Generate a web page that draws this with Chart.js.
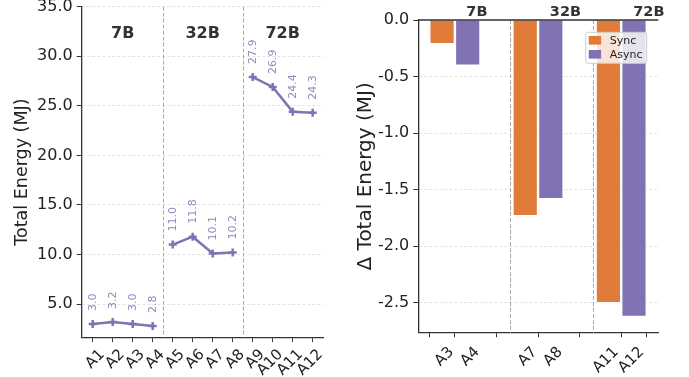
<!DOCTYPE html>
<html>
<head>
<meta charset="utf-8">
<script src="https://cdn.jsdelivr.net/npm/chart.js@4.4.1/dist/chart.umd.min.js"></script>
<style>
  html, body { margin: 0; padding: 0; background: #fff; }
  #wrap { position: relative; width: 689px; height: 377px; }
  #left-chart { position: absolute; left: 0; top: 0; }
  #right-chart { position: absolute; left: 345px; top: 0; }
</style>
</head>
<body>
<div id="wrap">
  <canvas id="left-chart" width="345" height="377"></canvas>
  <canvas id="right-chart" width="344" height="377"></canvas>
</div>
<script>
// ---- data ----
const runLabels = ['A1', 'A2', 'A3', 'A4', 'A5', 'A6', 'A7', 'A8', 'A9', 'A10', 'A11', 'A12'];
const totalEnergy = [3.0, 3.2, 3.0, 2.8, 11.0, 11.8, 10.1, 10.2, 27.9, 26.9, 24.4, 24.3];
const modelGroups = ['7B', '32B', '72B'];
const runsPerGroup = 4;
const energyTicks = [5, 10, 15, 20, 25, 30, 35];

const deltaLabels = ['A3', 'A4', 'A7', 'A8', 'A11', 'A12'];
const deltaSlots = [0, 1, 3.25, 4.25, 6.5, 7.5];
const syncDelta = [-0.21, -1.73, -2.50];   // A3, A7, A11
const asyncDelta = [-0.40, -1.58, -2.62];  // A4, A8, A12
const deltaTicks = [0, -0.5, -1.0, -1.5, -2.0, -2.5];

// ---- styles ----
const PURPLE = '#8172b3';
const ORANGE = '#e07b39';
const AXIS = '#333';
const FONT = "'DejaVu Sans', sans-serif";
Chart.defaults.font.family = FONT;
Chart.defaults.color = '#222';

/**
 * Pin the plot area: fixed scale size, no extra padding from labels
 */
function fixSize(prop, size) {
    return function(scale) {
        scale[prop] = size;
        scale.paddingLeft = 0;
        scale.paddingRight = 0;
        scale.paddingTop = 0;
        scale.paddingBottom = 0;
    };
}

function fixedTicks(values) {
    return function(scale) {
        scale.ticks = values.map(v => ({ value: v }));
    };
}

/**
 * Rotated (45 deg) x tick labels, centred on the tick like matplotlib
 */
function drawXLabels(chart, labels, gap) {
    const { ctx, scales: { x } } = chart;
    ctx.save();
    ctx.font = '15px ' + FONT;
    ctx.fillStyle = '#222';
    ctx.textAlign = 'center';
    ctx.textBaseline = 'alphabetic';
    x.ticks.forEach((t, i) => {
        const text = labels[i];
        const m = ctx.measureText(text);
        const w = m.actualBoundingBoxLeft + m.actualBoundingBoxRight;
        const h = m.actualBoundingBoxAscent;
        const diag = (w + h) / Math.SQRT2;
        const cx = x.getPixelForValue(t.value) + 1 - 5 * (text.length - 2);
        const cy = x.top + gap + diag / 2;
        ctx.save();
        ctx.translate(cx, cy);
        ctx.rotate(-Math.PI / 4);
        ctx.fillText(text, 0, h / 2);
        ctx.restore();
    });
    ctx.restore();
}

// ---- left: total energy per run ----
const leftDatasets = modelGroups.map((g, gi) => ({
    label: g,
    data: totalEnergy.slice(gi * runsPerGroup, (gi + 1) * runsPerGroup)
        .map((v, i) => ({ x: gi * runsPerGroup + i, y: v })),
    borderColor: PURPLE,
    backgroundColor: PURPLE,
    borderWidth: 2.5,
    pointStyle: 'cross',
    pointRadius: 4,
    pointBorderWidth: 2.5,
    pointHoverRadius: 4
}));

const leftDecor = {
    id: 'leftDecor',
    beforeDatasetsDraw(chart) {
        const { ctx, chartArea, scales: { x } } = chart;
        ctx.save();
        ctx.strokeStyle = '#aaa';
        ctx.lineWidth = 1;
        ctx.setLineDash([4, 2]);
        for (let g = 1; g < modelGroups.length; g++) {
            const px = Math.round(x.getPixelForValue(g * runsPerGroup - 0.5)) + 0.5;
            ctx.beginPath();
            ctx.moveTo(px, chartArea.top);
            ctx.lineTo(px, chartArea.bottom);
            ctx.stroke();
        }
        ctx.restore();
    },
    afterDatasetsDraw(chart) {
        const { ctx, scales: { x, y } } = chart;
        ctx.save();
        // value labels
        ctx.fillStyle = 'rgba(129, 114, 179, 0.85)';
        ctx.font = '11px ' + FONT;
        ctx.textAlign = 'left';
        ctx.textBaseline = 'middle';
        totalEnergy.forEach((v, i) => {
            const px = x.getPixelForValue(i);
            const py = y.getPixelForValue(v);
            ctx.save();
            ctx.translate(px, py - 13);
            ctx.rotate(-Math.PI / 2);
            ctx.fillText(v.toFixed(1), 0, 0);
            ctx.restore();
        });
        // group labels
        ctx.fillStyle = '#333';
        ctx.font = 'bold 16px ' + FONT;
        ctx.textAlign = 'center';
        modelGroups.forEach((g, gi) => {
            const px = x.getPixelForValue(gi * runsPerGroup + (runsPerGroup - 1) / 2);
            ctx.fillText(g, px, y.getPixelForValue(32.3));
        });
        ctx.restore();
    },
    afterDraw(chart) {
        drawXLabels(chart, runLabels, 9.2);
    }
};

new Chart(document.getElementById('left-chart'), {
    type: 'line',
    data: { datasets: leftDatasets },
    options: {
        responsive: false,
        animation: false,
        layout: { padding: { left: 0, top: 6.7, right: 21.7, bottom: 0 } },
        plugins: { legend: { display: false }, tooltip: { enabled: false } },
        scales: {
            x: {
                type: 'linear',
                min: -0.55,
                max: 11.53,
                afterBuildTicks: fixedTicks(runLabels.map((_, i) => i)),
                afterFit: fixSize('height', 39.5),
                ticks: { display: false },
                grid: { drawOnChartArea: false, tickLength: 4.5, tickColor: AXIS, tickWidth: 1 },
                border: { color: AXIS, width: 1.3 }
            },
            y: {
                min: 1.63,
                max: 35,
                afterBuildTicks: fixedTicks(energyTicks),
                afterFit: fixSize('width', 81.7),
                ticks: { padding: 4, font: { size: 16 }, callback: v => v.toFixed(1) },
                grid: { color: '#ddd', lineWidth: 0.8, tickColor: AXIS, tickLength: 5, tickWidth: 1 },
                border: { color: AXIS, width: 1.3, dash: [3, 2] },
                title: {
                    display: true,
                    text: 'Total Energy (MJ)',
                    font: { size: 17.5 },
                    padding: { top: 11.5, bottom: 0 }
                }
            }
        }
    },
    plugins: [leftDecor]
});

// ---- right: delta energy ----
const rightDecor = {
    id: 'rightDecor',
    beforeDatasetsDraw(chart) {
        const { ctx, chartArea, scales: { x } } = chart;
        ctx.save();
        ctx.strokeStyle = '#aaa';
        ctx.lineWidth = 1;
        ctx.setLineDash([4, 2]);
        [2.64, 5.89].forEach(v => {
            const px = Math.round(x.getPixelForValue(v)) + 0.5;
            ctx.beginPath();
            ctx.moveTo(px, chartArea.top);
            ctx.lineTo(px, chartArea.bottom);
            ctx.stroke();
        });
        ctx.restore();
    },
    afterDatasetsDraw(chart) {
        const { ctx, chartArea, scales: { x, y } } = chart;
        ctx.save();
        // zero line
        const y0 = y.getPixelForValue(0);
        ctx.strokeStyle = AXIS;
        ctx.lineWidth = 1.3;
        ctx.beginPath();
        ctx.moveTo(chartArea.left, y0);
        ctx.lineTo(chartArea.right, y0);
        ctx.stroke();
        // group labels
        ctx.fillStyle = '#333';
        ctx.font = 'bold 14.5px ' + FONT;
        ctx.textAlign = 'center';
        ctx.textBaseline = 'middle';
        [1.36, 4.82, 8.08].forEach((v, gi) => {
            ctx.fillText(modelGroups[gi], x.getPixelForValue(v), 12.3);
        });
        // legend
        const lx = 240.7, ly = 32.3, lw = 61, lh = 31;
        ctx.fillStyle = 'rgba(255, 255, 255, 0.8)';
        ctx.strokeStyle = '#ccc';
        ctx.lineWidth = 1;
        ctx.beginPath();
        ctx.roundRect(lx, ly, lw, lh, 2);
        ctx.fill();
        ctx.stroke();
        ctx.font = '11px ' + FONT;
        ctx.textAlign = 'left';
        [['Sync', ORANGE], ['Async', PURPLE]].forEach(([name, color], i) => {
            const cy = ly + 8 + i * 14;
            ctx.fillStyle = color;
            ctx.fillRect(lx + 3, cy - 4.3, 12.4, 8.6);
            ctx.fillStyle = '#222';
            ctx.fillText(name, lx + 24, cy + 0.5);
        });
        ctx.restore();
    },
    afterDraw(chart) {
        drawXLabels(chart, deltaLabels, 11.5);
    }
};

function barSet(label, values, slots, color) {
    return {
        label: label,
        data: values.map((v, i) => ({ x: deltaSlots[slots[i]], y: v })),
        backgroundColor: color,
        borderColor: 'rgba(255, 255, 255, 0.6)',
        borderWidth: 1,
        barThickness: 24.5,
        grouped: false
    };
}

new Chart(document.getElementById('right-chart'), {
    type: 'bar',
    data: {
        datasets: [
            barSet('Sync', syncDelta, [0, 2, 4], ORANGE),
            barSet('Async', asyncDelta, [1, 3, 5], PURPLE)
        ]
    },
    options: {
        responsive: false,
        animation: false,
        layout: { padding: { left: 0, top: 20, right: 30.7, bottom: 0 } },
        plugins: { legend: { display: false }, tooltip: { enabled: false } },
        scales: {
            x: {
                type: 'linear',
                offset: false,
                min: -0.93,
                max: 8.45,
                afterBuildTicks: fixedTicks(deltaSlots),
                afterFit: fixSize('height', 44.3),
                ticks: { display: false },
                grid: { drawOnChartArea: false, tickLength: 4.5, tickColor: AXIS, tickWidth: 1 },
                border: { color: AXIS, width: 1.3 }
            },
            y: {
                min: -2.765,
                max: 0,
                afterBuildTicks: fixedTicks(deltaTicks),
                afterFit: fixSize('width', 73.3),
                ticks: { padding: 4, font: { size: 16 }, callback: v => v.toFixed(1) },
                grid: { color: '#ddd', lineWidth: 0.8, tickColor: AXIS, tickLength: 5, tickWidth: 1 },
                border: { color: AXIS, width: 1.3, dash: [3, 2] },
                title: {
                    display: true,
                    text: 'Δ Total Energy (MJ)',
                    font: { size: 20 },
                    padding: { top: 9, bottom: 0 }
                }
            }
        }
    },
    plugins: [rightDecor]
});
</script>
</body>
</html>
